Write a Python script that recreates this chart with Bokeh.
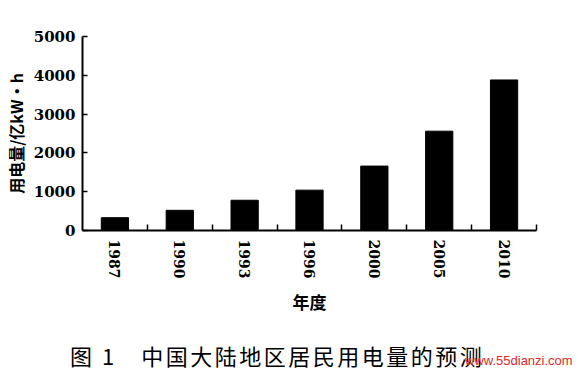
from bokeh.plotting import figure
from bokeh.models import Range1d, FixedTicker, ColumnDataSource, Div
from bokeh.layouts import column
from bokeh.embed import file_html
from bokeh.resources import INLINE

years = ["1987", "1990", "1993", "1996", "2000", "2005", "2010"]
usage = [330, 520, 780, 1040, 1660, 2560, 3880]
y_ticks = [0, 1000, 2000, 3000, 4000, 5000]
y_label = "用电量/亿kW·h"
x_label = "年度"
caption = "图 1　中国大陆地区居民用电量的预测"
watermark = "www.55dianzi.com"

n = len(years)
centers = [i + 0.5 for i in range(n)]
bounds = [float(i + 1) for i in range(n)]

src = ColumnDataSource(dict(x=centers, top=usage, year=years))

p = figure(width=562, height=330, x_range=Range1d(0, n), y_range=Range1d(0, 5000),
           output_backend="svg", toolbar_location=None,
           min_border_left=78, min_border_right=30, min_border_top=36, min_border_bottom=100)
p.frame_width = 454
p.frame_height = 194
p.background_fill_color = "white"
p.border_fill_color = "white"
p.outline_line_color = None
p.grid.visible = False

p.vbar(x="x", top="top", width=0.42, bottom=0, source=src, fill_color="black", line_color="black")

serif = "DejaVu Serif"
cjk = "Noto Sans CJK SC"

xa = p.xaxis[0]
xa.ticker = FixedTicker(ticks=centers, minor_ticks=bounds)
xa.major_label_overrides = {c: y for c, y in zip(centers, years)}
xa.major_label_orientation = "vertical"
xa.major_tick_line_color = None
xa.major_tick_in = 0
xa.major_tick_out = 0
xa.minor_tick_in = 6
xa.minor_tick_out = 0
xa.minor_tick_line_width = 1.5
xa.minor_tick_line_color = "black"
xa.axis_line_width = 2
xa.axis_line_color = "black"
xa.major_label_standoff = 9
xa.major_label_text_font = serif
xa.major_label_text_font_style = "bold"
xa.major_label_text_font_size = "14px"
xa.major_label_text_color = "black"
xa.axis_label = x_label
xa.axis_label_text_font = cjk
xa.axis_label_text_font_style = "bold"
xa.axis_label_text_font_size = "17px"
xa.axis_label_text_color = "black"
xa.axis_label_standoff = 8

ya = p.yaxis[0]
ya.ticker = FixedTicker(ticks=y_ticks)
ya.major_tick_in = 5
ya.major_tick_out = 0
ya.major_tick_line_width = 1.5
ya.major_tick_line_color = "black"
ya.minor_tick_line_color = None
ya.axis_line_width = 2
ya.axis_line_color = "black"
ya.major_label_standoff = 7
ya.major_label_text_font = serif
ya.major_label_text_font_style = "bold"
ya.major_label_text_font_size = "15px"
ya.major_label_text_color = "black"
ya.axis_label = y_label
ya.axis_label_text_font = cjk
ya.axis_label_text_font_style = "bold"
ya.axis_label_text_font_size = "16px"
ya.axis_label_text_color = "black"
ya.axis_label_standoff = 3

html = (
    '<div style="position:relative;width:562px;height:35px;">'
    '<span style="position:absolute;left:70px;top:14px;white-space:nowrap;'
    "font-family:'Noto Sans CJK SC';font-size:22px;line-height:22px;letter-spacing:2.5px;color:#000;\">"
    + caption + '</span>'
    '<span style="position:absolute;left:465px;top:24px;white-space:nowrap;'
    "font-family:'Liberation Sans';font-size:13px;line-height:13px;color:#e02828;\">"
    + watermark + '</span>'
    '</div>'
)
cap = Div(text=html, width=562, height=35, margin=0)

layout = column(p, cap, spacing=0)
open("out.html", "w").write(file_html(layout, INLINE))
